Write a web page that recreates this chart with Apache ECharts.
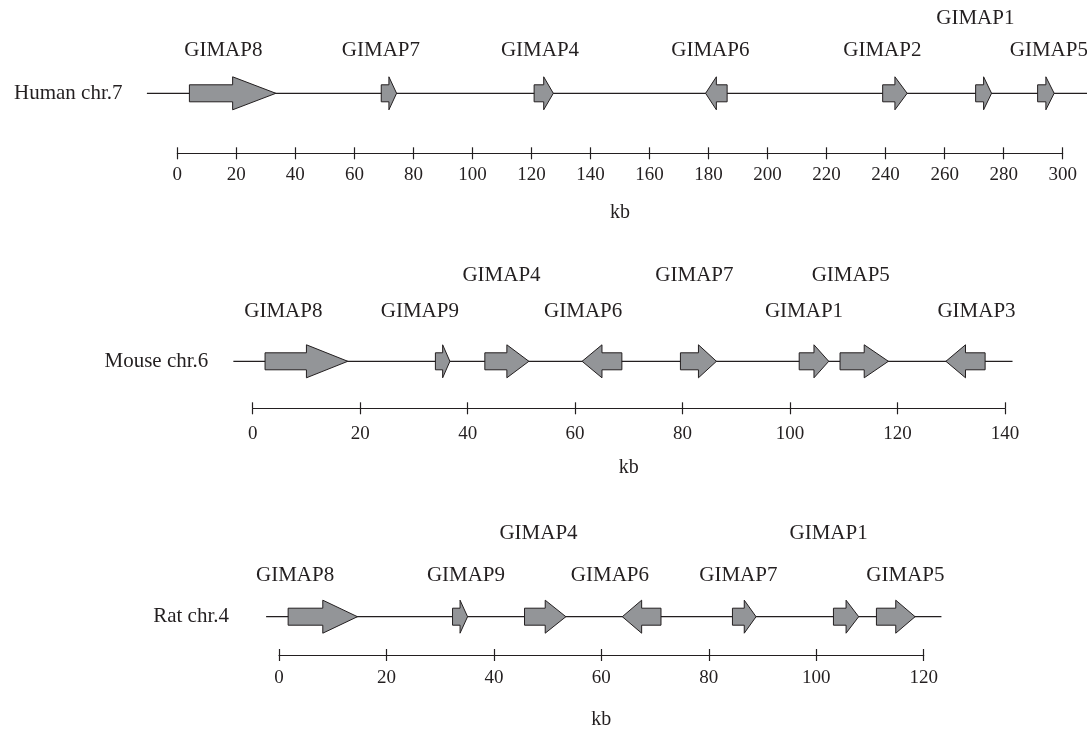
<!DOCTYPE html>
<html>
<head>
<meta charset="utf-8">
<script src="https://cdn.jsdelivr.net/npm/echarts@6/dist/echarts.min.js"></script>
<style>
html,body{margin:0;padding:0;background:#fff;}
#chart{width:1087px;height:731px;}
</style>
</head>
<body>
<div id="chart"></div>
<script>
// ---------- DATA (kb) ----------
const panelNames = ['Human chr.7', 'Mouse chr.6', 'Rat chr.4'];
const axisMax = [300, 140, 120];
const tickStep = [20, 20, 20];

const humanGenes   = ['GIMAP8','GIMAP7','GIMAP4','GIMAP6','GIMAP2','GIMAP1','GIMAP5'];
const humanStart   = [4.1, 69.1, 120.9, 179.0, 239.0, 270.5, 291.5];
const humanEnd     = [33.4, 74.3, 127.4, 186.3, 247.3, 275.9, 297.1];
const humanStrand  = [1, 1, 1, -1, 1, 1, 1];
const humanLabelAt = [15.6, 69.0, 122.9, 180.6, 238.9, 270.4, 295.3];
const humanLabelRow= [0, 0, 0, 0, 0, 1, 0];
const humanTrack   = [-10.3, 308.5];

const mouseGenes   = ['GIMAP8','GIMAP9','GIMAP4','GIMAP6','GIMAP7','GIMAP1','GIMAP5','GIMAP3'];
const mouseStart   = [2.3, 34.0, 43.2, 61.3, 79.6, 101.7, 109.3, 129.0];
const mouseEnd     = [17.7, 36.7, 51.4, 68.7, 86.3, 107.2, 118.3, 136.3];
const mouseStrand  = [1, 1, 1, -1, 1, 1, 1, -1];
const mouseLabelAt = [5.7, 31.1, 46.3, 61.5, 82.2, 102.6, 111.3, 134.7];
const mouseLabelRow= [0, 0, 1, 0, 1, 0, 1, 0];
const mouseTrack   = [-3.6, 141.4];

const ratGenes     = ['GIMAP8','GIMAP9','GIMAP4','GIMAP6','GIMAP7','GIMAP1','GIMAP5'];
const ratStart     = [1.7, 32.3, 45.7, 63.9, 84.4, 103.2, 111.2];
const ratEnd       = [14.6, 35.1, 53.4, 71.1, 88.8, 107.9, 118.4];
const ratStrand    = [1, 1, 1, -1, 1, 1, 1];
const ratLabelAt   = [3.0, 34.8, 48.3, 61.6, 85.5, 102.3, 116.6];
const ratLabelRow  = [0, 0, 1, 0, 0, 1, 0];
const ratTrack     = [-2.4, 123.3];

// ---------- LAYOUT / STYLE ----------
const FONT = '"Liberation Serif", "DejaVu Serif", serif';
const INK = '#231f20';
const FILL = '#939598';
const layouts = [
  {left:177.3, width:885.4, top:93.3, height:60,   rowOff:[-43.3,-75.3], nameX:122.5, labelMargin:12, nameGap:49},
  {left:252.7, width:752.3, top:361.3, height:47,  rowOff:[-49.6,-86.3], nameX:208.3, labelMargin:16, nameGap:49},
  {left:279,   width:644.7, top:616.7, height:48.3, rowOff:[-41.7,-83.4], nameX:229,  labelMargin:14, nameGap:55}
];

const panels = [
  {genes:humanGenes, start:humanStart, end:humanEnd, strand:humanStrand, labelAt:humanLabelAt, row:humanLabelRow, track:humanTrack},
  {genes:mouseGenes, start:mouseStart, end:mouseEnd, strand:mouseStrand, labelAt:mouseLabelAt, row:mouseLabelRow, track:mouseTrack},
  {genes:ratGenes, start:ratStart, end:ratEnd, strand:ratStrand, labelAt:ratLabelAt, row:ratLabelRow, track:ratTrack}
];

const grid = [], xAxis = [], yAxis = [], series = [], graphic = [];

panels.forEach((p, i) => {
  const L = layouts[i];
  grid.push({left:L.left, width:L.width, top:L.top, height:L.height, containLabel:false});
  const base = {
    gridIndex:i, type:'value', min:0, max:axisMax[i], interval:tickStep[i],
    position:'bottom', splitLine:{show:false}
  };
  xAxis.push(Object.assign({}, base, {
    axisLine:{show:true, lineStyle:{color:INK, width:1.2}},
    axisTick:{show:true, length:6, inside:false, lineStyle:{color:INK, width:1.2}},
    axisLabel:{show:true, margin:L.labelMargin, color:INK, fontFamily:FONT, fontSize:19},
    name:'kb', nameLocation:'middle', nameGap:L.nameGap,
    nameTextStyle:{color:INK, fontFamily:FONT, fontSize:20}
  }));
  xAxis.push(Object.assign({}, base, {
    axisLine:{show:false},
    axisTick:{show:true, length:6, inside:true, lineStyle:{color:INK, width:1.2}},
    axisLabel:{show:false}
  }));
  yAxis.push({gridIndex:i, type:'value', min:0, max:1, show:false});

  // chromosome track line
  series.push({
    type:'custom', xAxisIndex:2*i, yAxisIndex:i, clip:false, silent:true, z:1,
    data:[[p.track[0], p.track[1]]],
    renderItem:function(params, api){
      const a = api.coord([api.value(0), 1]), b = api.coord([api.value(1), 1]);
      return {type:'line', shape:{x1:a[0], y1:a[1], x2:b[0], y2:b[1]},
              style:{stroke:INK, lineWidth:1.2}};
    }
  });

  // genes
  const data = p.genes.map((g, k) => [p.start[k], p.end[k], p.strand[k], p.labelAt[k], p.row[k], g]);
  series.push({
    type:'custom', xAxisIndex:2*i, yAxisIndex:i, clip:false, silent:true, z:3,
    data:data,
    renderItem:function(params, api){
      const s = api.value(0), e = api.value(1), dir = api.value(2);
      const la = api.value(3), row = api.value(4);
      const name = data[params.dataIndex][5];
      const p0 = api.coord([s, 1]), p1 = api.coord([e, 1]);
      const y = p0[1];
      const bh = 8.5, hh = 16.5;
      const mid = (p0[0] + p1[0]) / 2;
      let pts;
      if (dir > 0) {
        pts = [[p0[0], y-bh],[mid, y-bh],[mid, y-hh],[p1[0], y],[mid, y+hh],[mid, y+bh],[p0[0], y+bh]];
      } else {
        pts = [[p1[0], y-bh],[mid, y-bh],[mid, y-hh],[p0[0], y],[mid, y+hh],[mid, y+bh],[p1[0], y+bh]];
      }
      const lp = api.coord([la, 1]);
      return {
        type:'group',
        children:[
          {type:'polygon', shape:{points:pts}, style:{fill:FILL, stroke:INK, lineWidth:1}},
          {type:'text', x:lp[0], y:y + L.rowOff[row],
           style:{text:name, fill:INK, font:'21px ' + FONT, align:'center', verticalAlign:'middle'}}
        ]
      };
    }
  });

  graphic.push({
    type:'text', x:L.nameX, y:L.top,
    style:{text:panelNames[i], fill:INK, font:'21px ' + FONT, align:'right', verticalAlign:'middle'}
  });
});

const chart = echarts.init(document.getElementById('chart'), null, {renderer:'canvas'});
chart.setOption({
  animation:false,
  backgroundColor:'#ffffff',
  grid:grid, xAxis:xAxis, yAxis:yAxis, series:series, graphic:graphic
});
</script>
</body>
</html>
